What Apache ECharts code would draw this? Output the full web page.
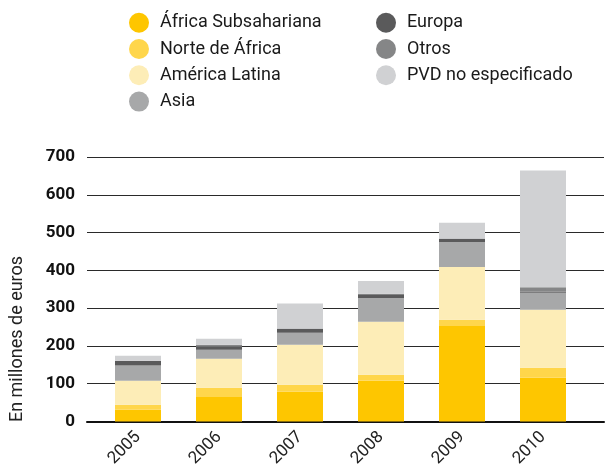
<!DOCTYPE html>
<html>
<head>
<meta charset="utf-8">
<script src="https://cdn.jsdelivr.net/npm/echarts@6/dist/echarts.min.js"></script>
<style>
  html, body { margin: 0; padding: 0; background: #fff; }
  #chart { width: 605px; height: 472px; }
</style>
</head>
<body>
<div id="chart"></div>
<script>
// datos (millones de euros)
const years = ['2005', '2006', '2007', '2008', '2009', '2010']
const africaSub = [31, 65, 79, 108, 253, 116]
const norteAfrica = [13, 24, 18, 16, 16, 26]
const americaLatina = [64, 77, 106, 140, 140, 154]
const asia = [40, 24, 32, 63, 66, 45]
const europa = [12, 8, 10, 10, 8, 3]
const otros = [1, 5, 1, 1, 1, 11]
const pvd = [13, 16, 66, 34, 42, 309]
const yMin = 0
const yMax = 700
const yStep = 100

const seriesDefs = [
  { name: 'África Subsahariana', data: africaSub, color: '#FEC600' },
  { name: 'Norte de África', data: norteAfrica, color: '#FFD64B' },
  { name: 'América Latina', data: americaLatina, color: '#FDEDB7' },
  { name: 'Asia', data: asia, color: '#A7A8A9' },
  { name: 'Europa', data: europa, color: '#5A5A5B' },
  { name: 'Otros', data: otros, color: '#858687' },
  { name: 'PVD no especificado', data: pvd, color: '#D0D1D3' }
]

const font = 'Roboto, "DejaVu Sans", sans-serif'

const chart = echarts.init(document.getElementById('chart'), null, { renderer: 'canvas' })

const legendBase = {
  orient: 'vertical',
  top: 12.7,
  padding: 0,
  icon: 'circle',
  itemWidth: 20,
  itemHeight: 20,
  itemGap: 6.3,
  textStyle: { fontFamily: font, fontSize: 18, color: '#1a1a1a', padding: [0, 0, 0, 6] }
}

const option = {
  animation: false,
  legend: [
    Object.assign({}, legendBase, { left: 129, data: seriesDefs.slice(0, 4).map(s => s.name) }),
    Object.assign({}, legendBase, { left: 376, data: seriesDefs.slice(4).map(s => s.name) })
  ],
  // grid 0: líneas de fondo a todo lo ancho; grid 1: las barras
  grid: [
    { left: 87, right: 1, top: 157, bottom: 50.5 },
    { left: 97.5, right: 21.5, top: 157, bottom: 50.5 }
  ],
  xAxis: [
    {
      gridIndex: 0,
      type: 'value',
      min: 0,
      max: 1,
      splitLine: { show: false },
      axisTick: { show: false },
      axisLabel: { show: false },
      axisLine: { show: true, lineStyle: { color: '#111', width: 2 } }
    },
    {
      gridIndex: 1,
      type: 'category',
      data: years,
      axisLine: { show: false },
      axisTick: { show: false },
      axisLabel: {
        rotate: 45,
        margin: 13,
        fontFamily: font,
        fontSize: 17,
        color: '#222'
      }
    }
  ],
  yAxis: [
    {
      gridIndex: 0,
      type: 'value',
      min: yMin,
      max: yMax,
      interval: yStep,
      axisLine: { show: false },
      axisTick: { show: false },
      splitLine: { lineStyle: { color: '#2a2a2a', width: 1.2 } },
      axisLabel: {
        margin: 12,
        fontFamily: font,
        fontSize: 17,
        fontWeight: 'bold',
        color: '#111'
      }
    },
    {
      gridIndex: 1,
      type: 'value',
      min: yMin,
      max: yMax,
      interval: yStep,
      show: false,
      splitLine: { show: false }
    }
  ],
  graphic: [{
    type: 'text',
    x: 17,
    y: 339,
    rotation: Math.PI / 2,
    style: {
      text: 'En millones de euros',
      fontFamily: font,
      fontSize: 18,
      fill: '#222',
      align: 'center',
      verticalAlign: 'middle'
    }
  }],
  series: seriesDefs.map(s => ({
    name: s.name,
    type: 'bar',
    xAxisIndex: 1,
    yAxisIndex: 1,
    stack: 'total',
    barWidth: 46,
    itemStyle: { color: s.color },
    emphasis: { disabled: true },
    data: s.data
  }))
}

chart.setOption(option)
</script>
</body>
</html>
